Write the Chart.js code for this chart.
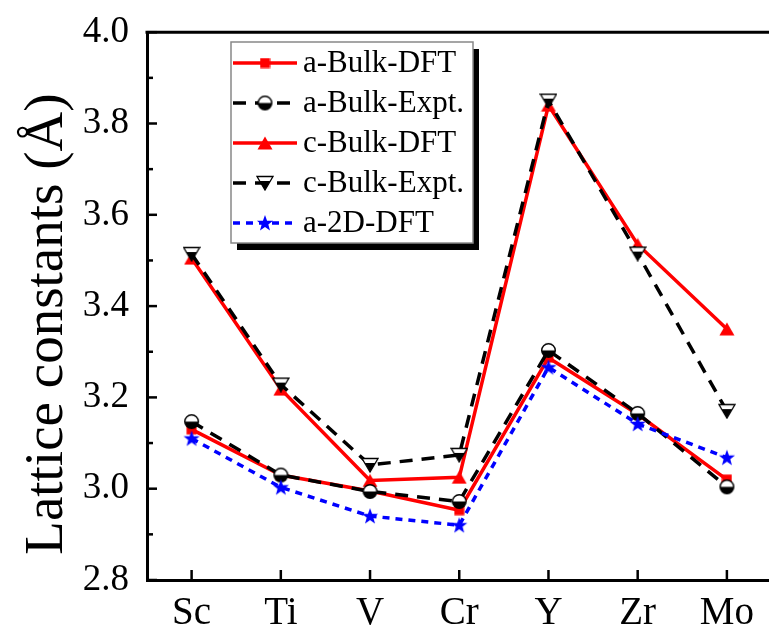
<!DOCTYPE html>
<html>
<head>
<meta charset="utf-8">
<script src="https://cdn.jsdelivr.net/npm/chart.js@4.4.0/dist/chart.umd.min.js"></script>
<style>
  html, body { margin: 0; padding: 0; background: #fff; overflow: hidden; }
  canvas { display: block; }
</style>
</head>
<body>
<canvas id="latticeChart" width="781" height="626"></canvas>
<script>
// values
var elements = ["Sc", "Ti", "V", "Cr", "Y", "Zr", "Mo"];
var aBulkDFT = [3.13, 3.03, 2.995, 2.953, 3.287, 3.163, 3.02];
var aBulkExpt = [3.147, 3.03, 2.994, 2.972, 3.303, 3.165, 3.004];
var cBulkDFT = [3.505, 3.218, 3.018, 3.025, 3.84, 3.535, 3.35];
var cBulkExpt = [3.514, 3.228, 3.052, 3.074, 3.85, 3.515, 3.17];
var a2DDFT = [3.11, 3.003, 2.94, 2.92, 3.266, 3.142, 3.068];
var yMin = 2.8, yMax = 4.0, yStep = 0.1;
var yTitle = "Lattice constants (Å)";

var serif = "'Liberation Serif', 'Times New Roman', serif";

// little canvases used as point styles
function makeMarker(w, h, draw) {
  var c = document.createElement("canvas");
  c.width = w;
  c.height = h;
  draw(c.getContext("2d"));
  return c;
}

var squareMark = makeMarker(11, 11, function (g) {
  g.fillStyle = "#ff0000";
  g.fillRect(0.5, 0.5, 10, 10);
});

var triMark = makeMarker(16, 14, function (g) {
  g.fillStyle = "#ff0000";
  g.beginPath();
  g.moveTo(8, 0.5);
  g.lineTo(15.5, 13.5);
  g.lineTo(0.5, 13.5);
  g.closePath();
  g.fill();
});

var halfCircle = makeMarker(17, 17, function (g) {
  g.beginPath();
  g.arc(8.5, 8.5, 6.8, 0, Math.PI * 2);
  g.fillStyle = "#fff";
  g.fill();
  g.beginPath();
  g.arc(8.5, 8.5, 6.8, 0, Math.PI);
  g.closePath();
  g.fillStyle = "#000";
  g.fill();
  g.beginPath();
  g.arc(8.5, 8.5, 6.8, 0, Math.PI * 2);
  g.lineWidth = 1.4;
  g.strokeStyle = "#000";
  g.stroke();
});

var halfTri = makeMarker(18, 16, function (g) {
  g.beginPath();
  g.moveTo(1, 1.5);
  g.lineTo(17, 1.5);
  g.lineTo(9, 15);
  g.closePath();
  g.fillStyle = "#000";
  g.fill();
  g.save();
  g.clip();
  g.fillStyle = "#fff";
  g.fillRect(0, 0, 18, 6);
  g.restore();
  g.lineWidth = 1.3;
  g.strokeStyle = "#000";
  g.stroke();
});

var starMark = makeMarker(18, 18, function (g) {
  g.fillStyle = "#0000ff";
  g.beginPath();
  for (var k = 0; k < 10; k++) {
    var r = k % 2 === 0 ? 8.5 : 3.5;
    var ang = -Math.PI / 2 + k * Math.PI / 5;
    var px = 9 + r * Math.cos(ang), py = 9.5 + r * Math.sin(ang);
    if (k === 0) g.moveTo(px, py); else g.lineTo(px, py);
  }
  g.closePath();
  g.fill();
});

var legendBox = { x: 231, y: 42, w: 242, h: 201, first: 21, row: 40, line0: 233, line1: 297, textX: 303 };

var frameAndLegend = {
  id: "frameAndLegend",
  afterDraw: function (chart) {
    var ctx = chart.ctx, a = chart.chartArea;
    var xs = chart.scales.x, ys = chart.scales.y;
    ctx.save();
    ctx.strokeStyle = "#000";
    ctx.lineWidth = 3;
    ctx.beginPath();
    ctx.moveTo(a.left - 1.5, a.top);
    ctx.lineTo(a.right, a.top);
    ctx.lineTo(a.right, a.bottom);
    ctx.stroke();

    // inward ticks
    ctx.lineWidth = 2.5;
    ys.ticks.forEach(function (t) {
      var y = ys.getPixelForValue(t.value);
      var major = Math.round(t.value * 10) % 2 === 0;
      ctx.beginPath();
      ctx.moveTo(a.left, y);
      ctx.lineTo(a.left + (major ? 10 : 6), y);
      ctx.stroke();
    });
    elements.forEach(function (e, i) {
      var x = xs.getPixelForValue(i);
      ctx.beginPath();
      ctx.moveTo(x, a.bottom);
      ctx.lineTo(x, a.bottom - 10);
      ctx.stroke();
    });

    // y axis title, set a bit below the middle like the original
    ctx.save();
    ctx.translate(62, (a.top + a.bottom) / 2 + 18);
    ctx.rotate(-Math.PI / 2);
    ctx.fillStyle = "#000";
    ctx.font = "55px " + serif;
    ctx.textAlign = "center";
    ctx.textBaseline = "alphabetic";
    ctx.fillText(yTitle, 0, 0);
    ctx.restore();

    // legend with drop shadow
    var L = legendBox;
    ctx.fillStyle = "#000";
    ctx.fillRect(L.x + 6, L.y + 7, L.w, L.h);
    ctx.fillStyle = "#fff";
    ctx.fillRect(L.x, L.y, L.w, L.h);
    ctx.lineWidth = 1.5;
    ctx.strokeStyle = "#888";
    ctx.strokeRect(L.x, L.y, L.w, L.h);

    chart.data.datasets.forEach(function (ds, i) {
      var yy = L.y + L.first + i * L.row;
      ctx.setLineDash(ds.borderDash || []);
      ctx.strokeStyle = ds.borderColor;
      ctx.lineWidth = ds.borderWidth;
      ctx.beginPath();
      ctx.moveTo(L.line0, yy);
      ctx.lineTo(L.line1, yy);
      ctx.stroke();
      ctx.setLineDash([]);
      var m = ds.pointStyle, mid = (L.line0 + L.line1) / 2;
      ctx.drawImage(m, mid - m.width / 2, yy - m.height / 2);
      ctx.fillStyle = "#000";
      ctx.font = "31px " + serif;
      ctx.textBaseline = "middle";
      ctx.textAlign = "left";
      ctx.fillText(ds.label, L.textX, yy + 1);
    });
    ctx.restore();
  }
};

var ctx = document.getElementById("latticeChart").getContext("2d");
var latticeChart = new Chart(ctx, {
  type: "line",
  data: {
    labels: elements,
    datasets: [
      {
        label: "a-Bulk-DFT",
        data: aBulkDFT,
        borderColor: "#ff0000",
        backgroundColor: "#ff0000",
        borderWidth: 3.5,
        pointStyle: squareMark,
        pointRadius: 6,
        order: 5,
      },
      {
        label: "a-Bulk-Expt.",
        data: aBulkExpt,
        borderColor: "#000000",
        backgroundColor: "#000000",
        borderWidth: 3.5,
        borderDash: [13, 9],
        pointStyle: halfCircle,
        pointRadius: 6,
        order: 3,
      },
      {
        label: "c-Bulk-DFT",
        data: cBulkDFT,
        borderColor: "#ff0000",
        backgroundColor: "#ff0000",
        borderWidth: 3.5,
        pointStyle: triMark,
        pointRadius: 6,
        order: 4,
      },
      {
        label: "c-Bulk-Expt.",
        data: cBulkExpt,
        borderColor: "#000000",
        backgroundColor: "#000000",
        borderWidth: 3.5,
        borderDash: [13, 9],
        pointStyle: halfTri,
        pointRadius: 6,
        order: 2,
      },
      {
        label: "a-2D-DFT",
        data: a2DDFT,
        borderColor: "#0000ff",
        backgroundColor: "#0000ff",
        borderWidth: 3.5,
        borderDash: [7, 6],
        pointStyle: starMark,
        pointRadius: 6,
        order: 1,
      },
    ],
  },
  options: {
    responsive: false,
    animation: false,
    events: [],
    layout: { padding: { top: 29, right: 2, left: 0, bottom: 0 } },
    elements: { line: { tension: 0 } },
    scales: {
      x: {
        type: "category",
        offset: true,
        grid: { display: false },
        border: { display: true, color: "#000", width: 3 },
        ticks: { color: "#000", font: { family: serif, size: 39 }, padding: 2 },
        afterFit: function (scale) { scale.height = 46; },
      },
      y: {
        min: yMin,
        max: yMax,
        grid: { display: false },
        border: { display: true, color: "#000", width: 3 },
        ticks: {
          stepSize: yStep,
          autoSkip: false,
          color: "#000",
          padding: 10,
          font: { family: serif, size: 37 },
          callback: function (v) {
            return Math.round(v * 10) % 2 === 0 ? v.toFixed(1) : "";
          },
        },
        afterFit: function (scale) { scale.width = 147; },
      },
    },
    plugins: {
      legend: { display: false },
      tooltip: { enabled: false },
    },
  },
  plugins: [frameAndLegend],
});
</script>
</body>
</html>
